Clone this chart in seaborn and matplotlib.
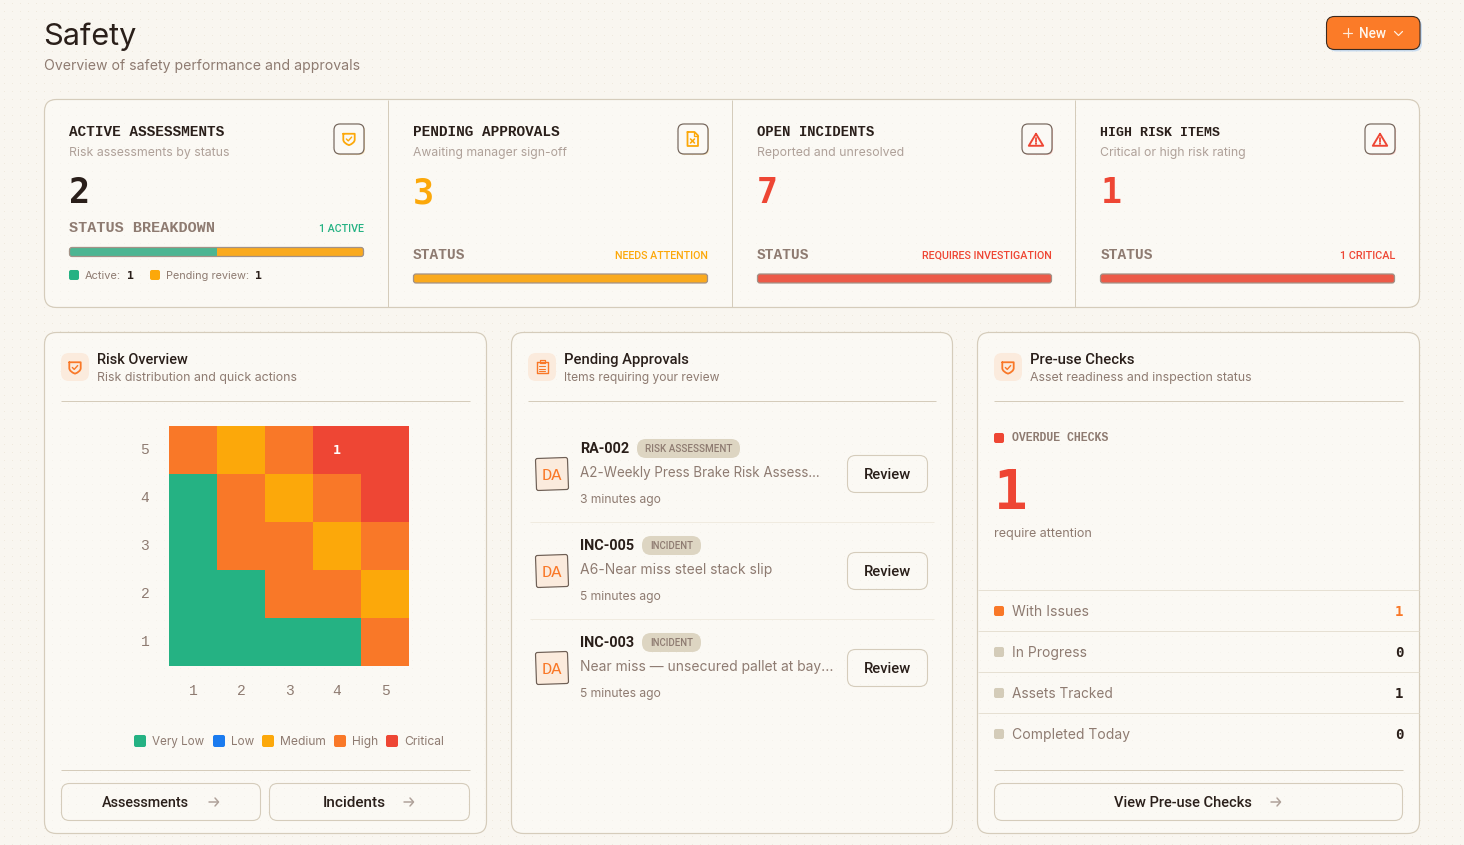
import numpy as np
import matplotlib
matplotlib.use("Agg")
import matplotlib.pyplot as plt
import seaborn as sns
from matplotlib.colors import ListedColormap, to_rgba
from matplotlib.patches import FancyBboxPatch, PathPatch, Circle
from matplotlib.path import Path
from matplotlib.transforms import Affine2D

# ---------- data ----------
KPI_TITLES = ["ACTIVE ASSESSMENTS", "PENDING APPROVALS", "OPEN INCIDENTS", "HIGH RISK ITEMS"]
KPI_SUBS = ["Risk assessments by status", "Awaiting manager sign-off", "Reported and unresolved", "Critical or high risk rating"]
KPI_VALUES = ["2", "3", "7", "1"]
KPI_BAR_LABELS = ["STATUS BREAKDOWN", "STATUS", "STATUS", "STATUS"]
KPI_NOTES = ["1 ACTIVE", "NEEDS ATTENTION", "REQUIRES INVESTIGATION", "1 CRITICAL"]
BREAKDOWN_ACTIVE = 1
BREAKDOWN_PENDING = 1
PENDING_BAR = 3
INCIDENT_BAR = 7
HIGH_RISK_BAR = 1

RISK_LEVELS = ["Very Low", "Low", "Medium", "High", "Critical"]
RISK_AXIS = [1, 2, 3, 4, 5]
RISK_ROW_5 = [3, 2, 3, 4, 4]
RISK_ROW_4 = [0, 3, 2, 3, 4]
RISK_ROW_3 = [0, 3, 3, 2, 3]
RISK_ROW_2 = [0, 0, 3, 3, 2]
RISK_ROW_1 = [0, 0, 0, 0, 3]
RISK_COUNT_LIKELIHOOD = 5
RISK_COUNT_SEVERITY = 4
RISK_COUNT = 1

APPROVAL_IDS = ["RA-002", "INC-005", "INC-003"]
APPROVAL_TYPES = ["RISK ASSESSMENT", "INCIDENT", "INCIDENT"]
APPROVAL_TITLES = ["A2-Weekly Press Brake Risk Assess...", "A6-Near miss steel stack slip", "Near miss \u2014 unsecured pallet at bay..."]
APPROVAL_TIMES = ["3 minutes ago", "5 minutes ago", "5 minutes ago"]

CHECK_LABELS = ["With Issues", "In Progress", "Assets Tracked", "Completed Today"]
CHECK_VALUES = [1, 0, 1, 0]
OVERDUE_CHECKS = 1

# ---------- style ----------
W, H = 1464, 845
INK, MUTED, FAINT = "#2A1F1A", "#8E7B71", "#AFA199"
LINE, SOFT = "#D5CCBB", "#E6E0D3"
GREEN, BLUE, AMBER, ORANGE, RED = "#25B283", "#1B7BEF", "#FCA80A", "#F97828", "#EE4634"
SANS, MONO, NUM, HEAD = "Inter", "Liberation Mono", "DejaVu Sans Mono", "Roboto"
CARD = to_rgba("#FDFCF9", 0.55)

sns.set_theme(style="white")
plt.rcParams["font.family"] = [SANS, "DejaVu Sans"]

fig = plt.figure(figsize=(W / 100, (H + 0.02) / 100), dpi=100, facecolor="#F9F6F0")
bg = fig.add_axes([0, 0, 1, 1], zorder=0)
bg.set_xlim(0, W); bg.set_ylim(H, 0); bg.axis("off")

dots = np.ones((H, W, 3)) * np.array([249, 246, 240]) / 255
dots[4::8, 4::8] = np.array([239, 233, 221]) / 255
bg.imshow(dots, extent=(0, W, H, 0), aspect="auto", interpolation="nearest", zorder=0)
bg.set_xlim(0, W); bg.set_ylim(H, 0)

renderer = fig.canvas.get_renderer()


def T(x, y, s, w, size=14, color=INK, weight="normal", family=SANS, ha="left", z=10):
    """Text on a pixel baseline; the size is tuned to the width seen in the reference."""
    t = bg.text(x, y, s, fontsize=size * 0.72, color=color, fontweight=weight,
                family=[family, "DejaVu Sans"], ha=ha, va="baseline", zorder=z)
    if w:
        t.set_fontsize(t.get_fontsize() * w / t.get_window_extent(renderer).width)
    return t


def box(x0, y0, x1, y1, r=8, fc="none", ec="none", lw=1.0, z=2, alpha=None, tr=None):
    p = FancyBboxPatch((x0, y0), x1 - x0, y1 - y0, boxstyle=f"round,pad=0,rounding_size={r}",
                       fc=fc, ec=ec, lw=lw * 0.72, zorder=z, alpha=alpha)
    if tr is not None:
        p.set_transform(tr + bg.transData)
    bg.add_patch(p)
    return p


def hline(x0, x1, y, c=LINE, lw=1.0, z=3):
    bg.plot([x0, x1], [y, y], color=c, lw=lw * 0.72, zorder=z, solid_capstyle="butt")


def vline(x, y0, y1, c=LINE, lw=1.0, z=3):
    bg.plot([x, x], [y0, y1], color=c, lw=lw * 0.72, zorder=z, solid_capstyle="butt")


def poly(cx, cy, pts, codes=None, c=ORANGE, lw=1.4, fc="none", z=6):
    pts = np.array(pts, float) + [cx, cy]
    p = PathPatch(Path(pts, codes), fc=fc, ec=c, lw=lw * 0.72, zorder=z, capstyle="round", joinstyle="round")
    bg.add_patch(p)


def shield(cx, cy, c, s=1.0, check=True):
    M, L, Q = Path.MOVETO, Path.LINETO, Path.CURVE3
    pts = [(-6, -5.5), (6, -5.5), (6, 1), (5.5, 4.5), (0, 6.5), (-5.5, 4.5), (-6, 1), (-6, -5.5)]
    codes = [M, L, L, Q, Q, Q, Q, L]
    poly(cx, cy, [(a * s, b * s) for a, b in pts], codes, c=c, lw=1.8)
    if check:
        poly(cx, cy, [(-2.8 * s, 0 * s), (-0.8 * s, 2 * s), (2.8 * s, -2 * s)], c=c, lw=1.4)


def warning(cx, cy, c):
    poly(cx, cy, [(0, -6.2), (7.2, 5.8), (-7.2, 5.8), (0, -6.2)], c=c, lw=1.9)
    poly(cx, cy, [(0, -2), (0, 1.6)], c=c, lw=1.8)
    bg.add_patch(Circle((cx, cy + 3.8), 1.0, fc=c, ec="none", zorder=6))


def docx(cx, cy, c):
    poly(cx, cy, [(-5, -7), (2, -7), (5.5, -3.5), (5.5, 7), (-5, 7), (-5, -7)], c=c, lw=1.8)
    poly(cx, cy, [(1.5, -7), (1.5, -3), (5.5, -3)], c=c, lw=1.3)
    poly(cx, cy, [(-2, 0), (2, 4)], c=c, lw=1.6)
    poly(cx, cy, [(2, 0), (-2, 4)], c=c, lw=1.6)


def clipboard(cx, cy, c):
    poly(cx, cy, [(-5.5, -5), (5.5, -5), (5.5, 6.5), (-5.5, 6.5), (-5.5, -5)], c=c, lw=1.4)
    poly(cx, cy, [(-2.5, -6.5), (2.5, -6.5), (2.5, -3.5), (-2.5, -3.5), (-2.5, -6.5)], c=c, lw=1.2)
    for dy in (-0.5, 1.8, 4.1):
        poly(cx, cy, [(-3, dy), (3, dy)], c=c, lw=1.1)


def arrow(cx, cy, c="#AFA199"):
    poly(cx, cy, [(-5, 0), (4, 0)], c=c, lw=1.5)
    poly(cx, cy, [(1, -4), (4.5, 0), (1, 4)], c=c, lw=1.5)


def pax(x0, y0, x1, y1, z=5):
    return fig.add_axes([x0 / W, 1 - y1 / H, (x1 - x0) / W, (y1 - y0) / H], zorder=z)


def progress(x0, x1, y0, y1, values, colors, total):
    ax = pax(x0, y0, x1, y1)
    frame = FancyBboxPatch((x0 + 0.5, y0 + 0.5), x1 - x0 - 1, y1 - y0 - 1, boxstyle="round,pad=0,rounding_size=2.5",
                           fc="none", ec="#A39287", lw=0.9, transform=bg.transData, zorder=6)
    left = 0
    for v, c in zip(values, colors):
        for b in ax.barh(0, v, left=left, height=1, color=c, lw=0):
            b.set_clip_path(frame)
        left += v
    ax.set_xlim(0, total); ax.set_ylim(-0.5, 0.5)
    ax.axis("off")
    fig.add_artist(frame)
    return ax


# ---------- header ----------
T(43, 45, "Safety", 93, size=32, color=INK)
T(44, 70, "Overview of safety performance and approvals", 316, size=14, color=MUTED)

box(1328.5, 18.5, 1422, 51.5, r=8, fc="#C9DCF0", z=2)
box(1326.5, 16.5, 1420, 49.5, r=8, fc="#FB7B28", ec="#3A2A20", lw=1.1, z=3)
poly(1347.5, 33, [(-4.5, 0), (4.5, 0)], c="#FFE9D8", lw=1.2)
poly(1347.5, 33, [(0, -4.5), (0, 4.5)], c="#FFE9D8", lw=1.2)
T(1359, 37.5, "New", 27, size=13, color="#FFF6EC", weight="medium", family=HEAD)
poly(1398.5, 33.5, [(-4, -2), (0, 2), (4, -2)], c="#FFF1E3", lw=1.2)

# ---------- KPI band ----------
box(44.5, 99.5, 1419.5, 307.5, r=12, fc=CARD, ec=LINE, lw=1.2, z=1)
for x in (388, 732, 1075):
    vline(x, 100, 307)

KPI_X = [69, 413, 757, 1100.5]
KPI_R = [364, 708, 1052, 1395]
TITLE_W = [157, 148, 117, 120]
SUB_W = [160, 153, 146, 145]
NOTE_W = [45, 93, 130, 55]
VALUE_COLORS = [INK, AMBER, RED, RED]
NOTE_COLORS = [GREEN, AMBER, RED, RED]
ICON_GLOW = ["#F5DDB0", "#F5DDB0", "#F3C4BC", "#F3C4BC"]

for i in range(4):
    x, r = KPI_X[i], KPI_R[i]
    T(x, 136, KPI_TITLES[i], TITLE_W[i], size=12, weight="bold", family=MONO)
    T(x, 156, KPI_SUBS[i], SUB_W[i], size=12, color=FAINT)
    T(x, 203, KPI_VALUES[i], None, size=35, color=VALUE_COLORS[i], weight="bold", family=NUM)
    by = 232 if i == 0 else 259
    T(x, by, KPI_BAR_LABELS[i], 145 if i == 0 else 52, size=11.5, color=MUTED, weight="bold", family=MONO)
    T(r, by, KPI_NOTES[i], NOTE_W[i], size=11, color=NOTE_COLORS[i], weight="medium", family=HEAD, ha="right")
    box(r - 29, 125, r + 1, 155, r=6, fc=ICON_GLOW[i], z=3)
    box(r - 30, 124, r, 154, r=6, fc="#FBF9F5", ec="#75665C", lw=1.2, z=4)

shield(349, 139, AMBER, s=0.95)
docx(692.5, 139, AMBER)
warning(1036, 140, RED)
warning(1380, 140, RED)

progress(69, 364, 247, 257, [BREAKDOWN_ACTIVE, BREAKDOWN_PENDING], ["#4DB592", "#FAAA1E"], BREAKDOWN_ACTIVE + BREAKDOWN_PENDING)
progress(413, 708, 273.5, 283.5, [PENDING_BAR], ["#FAAA1E"], PENDING_BAR)
progress(757, 1052, 273.5, 283.5, [INCIDENT_BAR], ["#EC5A48"], INCIDENT_BAR)
progress(1100, 1395, 273.5, 283.5, [HIGH_RISK_BAR], ["#EC5A48"], HIGH_RISK_BAR)

box(69, 270, 79, 280, r=2, fc=GREEN, z=4)
T(85, 279, "Active:", 36, size=11.5, color=MUTED)
T(127, 279, str(BREAKDOWN_ACTIVE), None, size=11.5, weight="bold", family=NUM)
box(150, 270, 160, 280, r=2, fc=AMBER, z=4)
T(166, 279, "Pending review:", 83, size=11.5, color=MUTED)
T(255, 279, str(BREAKDOWN_PENDING), None, size=11.5, weight="bold", family=NUM)

# ---------- lower cards ----------
CARDS = [(44.5, 486.5), (511.5, 952.5), (977.5, 1419.5)]
HEAD_T = ["Risk Overview", "Pending Approvals", "Pre-use Checks"]
HEAD_S = ["Risk distribution and quick actions", "Items requiring your review", "Asset readiness and inspection status"]
HEAD_TW = [91, 125, 105]
HEAD_SW = [200, 156, 222]
for i, (x0, x1) in enumerate(CARDS):
    box(x0, 332.5, x1, 833.5, r=12, fc=CARD, ec=LINE, lw=1.2, z=1)
    box(x0 + 16.5, 353, x0 + 44.5, 381, r=8, fc="#FBEBDD", z=3)
    T(x0 + 52.5, 364, HEAD_T[i], HEAD_TW[i], size=14, weight="medium", family=HEAD)
    T(x0 + 52.5, 381, HEAD_S[i], HEAD_SW[i], size=12, color=MUTED)
    hline(x0 + 16.5, x1 - 16.5, 401.5)
shield(75, 367.5, ORANGE, s=0.95)
clipboard(542, 367, ORANGE)
shield(1008, 367.5, ORANGE, s=0.95)

# ---------- risk matrix ----------
risk = np.array([RISK_ROW_5, RISK_ROW_4, RISK_ROW_3, RISK_ROW_2, RISK_ROW_1])
rows = RISK_AXIS[::-1]
labels = np.full(risk.shape, "", dtype=object)
labels[rows.index(RISK_COUNT_LIKELIHOOD), RISK_AXIS.index(RISK_COUNT_SEVERITY)] = str(RISK_COUNT)
hm = pax(169, 426, 409, 666)
sns.heatmap(risk, ax=hm, cmap=ListedColormap([GREEN, BLUE, AMBER, ORANGE, RED]), vmin=-0.5, vmax=4.5,
            cbar=False, square=False, xticklabels=RISK_AXIS, yticklabels=rows, linewidths=0,
            annot=labels, fmt="", annot_kws={"color": "white", "fontsize": 9.5, "fontweight": "bold", "family": NUM})
hm.tick_params(length=0, colors=MUTED, labelsize=10.5)
hm.tick_params(axis="y", rotation=0, pad=14.2)
hm.tick_params(axis="x", rotation=0, pad=12.7)
for lab in hm.get_xticklabels() + hm.get_yticklabels():
    lab.set_family(MONO)
    lab.set_color(MUTED)

LEG_SW = [134, 213, 262, 334, 386]
LEG_TX = [152, 231, 280, 352, 404]
LEG_W = [52, 23, 46, 26, 40]
for i, name in enumerate(RISK_LEVELS):
    box(LEG_SW[i], 735, LEG_SW[i] + 12, 747, r=2, fc=[GREEN, BLUE, AMBER, ORANGE, RED][i], z=4)
    T(LEG_TX[i], 745, name, LEG_W[i], size=12, color=MUTED)

hline(61, 470, 770.5)
box(61.5, 783.5, 260.5, 820.5, r=8, ec=LINE, lw=1.1, z=3)
box(269.5, 783.5, 469.5, 820.5, r=8, ec=LINE, lw=1.1, z=3)
T(102, 807, "Assessments", 88, size=14, weight="medium", family=HEAD)
arrow(214, 802)
T(323, 807, "Incidents", 63, size=14, weight="medium", family=HEAD)
arrow(409, 802)

# ---------- pending approvals ----------
ID_W = [49, 54, 54]
SUB_TW = [243, 193, 254]
BADGE_X = [(637, 740), (642, 701), (642, 701)]
BADGE_TW = [86, 43, 43]
for i in range(3):
    dy = 97 * i
    rot = Affine2D().rotate_deg_around(552, 474 + dy, -2)
    box(536, 458 + dy, 568, 490 + dy, r=2, fc="#FBEBDD", ec="#6F6056", lw=1.2, z=4, tr=rot)
    T(552, 480 + dy, "DA", None, size=17, color=ORANGE, family=MONO, ha="center")
    T(580, 453 + dy, APPROVAL_IDS[i], ID_W[i], size=14, weight="bold", family=HEAD)
    bx0, bx1 = BADGE_X[i]
    box(bx0, 439 + dy, bx1, 458 + dy, r=9, fc="#DDD5C2", z=4)
    T((bx0 + bx1) / 2, 452 + dy, APPROVAL_TYPES[i], BADGE_TW[i], size=9.5, color=MUTED, weight="medium", family=HEAD, ha="center")
    T(580, 477 + dy, APPROVAL_TITLES[i], SUB_TW[i], size=14, color=MUTED)
    T(580, 503 + dy, APPROVAL_TIMES[i], 81, size=12, color=MUTED)
    box(847.5, 455.5 + dy, 927.5, 492.5 + dy, r=8, ec=LINE, lw=1.1, z=3)
    T(887.5, 479 + dy, "Review", 47, size=14, weight="medium", family=HEAD, ha="center")
    if i < 2:
        hline(530, 934, 522 + dy, c="#F0EBE0")

# ---------- pre-use checks ----------
box(994, 433, 1004, 443, r=2, fc=RED, z=4)
T(1012, 441, "OVERDUE CHECKS", 97, size=10, color=MUTED, weight="bold", family=MONO)
T(994, 508.5, str(OVERDUE_CHECKS), None, size=56, color=RED, weight="bold", family=NUM)
T(994, 537, "require attention", 98, size=12, color=MUTED)

ROW_SQ = [ORANGE, "#D4CCB9", "#D4CCB9", "#D4CCB9"]
ROW_VAL = [ORANGE, INK, INK, INK]
ROW_W = [77, 75, 101, 118]
hline(978, 1419, 590.5, c=SOFT)
for i in range(4):
    dy = 41 * i
    box(994, 606 + dy, 1004, 616 + dy, r=2, fc=ROW_SQ[i], z=4)
    T(1012, 616 + dy, CHECK_LABELS[i], ROW_W[i], size=14, color=MUTED)
    T(1403.5, 616 + dy, str(CHECK_VALUES[i]), None, size=14, color=ROW_VAL[i], weight="bold", family=NUM, ha="right")
    if i < 3:
        hline(978, 1419, 631.5 + dy, c=SOFT)

hline(994, 1403, 770.5)
box(994.5, 783.5, 1402.5, 820.5, r=8, ec=LINE, lw=1.1, z=3)
T(1114, 807, "View Pre-use Checks", 139, size=14, weight="medium", family=HEAD)
arrow(1276, 802)

fig.savefig("out.png", dpi=100, facecolor=fig.get_facecolor())
